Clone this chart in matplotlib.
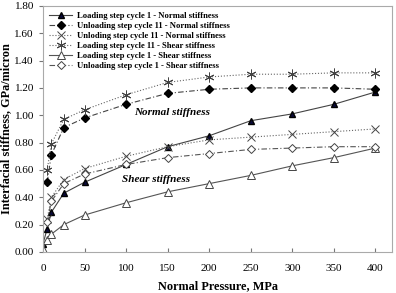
import matplotlib.pyplot as plt

plt.rcParams['font.family'] = ['Liberation Serif', 'DejaVu Serif']

# pressure values, MPa
p_all = [0, 5, 10, 25, 50, 100, 150, 200, 250, 300, 350, 400]
p_unl = [5, 10, 25, 50, 100, 150, 200, 250, 300, 350, 400]

# stiffness, GPa/micron
load1_normal = [0.06, 0.17, 0.29, 0.43, 0.51, 0.64, 0.77, 0.85, 0.96, 1.01, 1.08, 1.17]
unload11_normal = [0.51, 0.71, 0.91, 0.98, 1.08, 1.16, 1.19, 1.20, 1.20, 1.20, 1.19]
unlod11_normal = [0.24, 0.40, 0.53, 0.61, 0.70, 0.77, 0.82, 0.84, 0.86, 0.88, 0.90]
load11_shear = [0.60, 0.79, 0.97, 1.04, 1.15, 1.24, 1.28, 1.30, 1.30, 1.31, 1.31]
load1_shear = [0.02, 0.09, 0.13, 0.20, 0.27, 0.36, 0.44, 0.50, 0.56, 0.63, 0.69, 0.76]
unload1_shear = [0.22, 0.37, 0.50, 0.57, 0.64, 0.69, 0.72, 0.75, 0.76, 0.77, 0.77]

labels = ["Loading step cycle 1 - Normal stiffness",
          "Unloading step cycle 11 - Normal stiffness",
          "Unloding step cycle 11 - Normal stiffness",
          "Loading step cycle 11 - Shear stiffness",
          "Loading step cycle 1 - Shear stiffness",
          "Unloading step cycle 1 - Shear stiffness"]

fig = plt.figure(figsize=(3.96, 2.93), dpi=100)
ax = fig.add_axes([0.1086, 0.140, 0.8814, 0.840])

ax.plot(p_all, load1_normal, color='#444444', lw=0.8, ls='-', marker='^', ms=5,
        mfc='#0a0a3a', mec='black', label=labels[0])
ax.plot(p_unl, unload11_normal, color='#444444', lw=0.8, ls=(0, (5, 2, 1, 2)), marker='D', ms=4,
        mfc='black', mec='black', label=labels[1])
ax.plot(p_unl, unlod11_normal, color='#666666', lw=0.8, ls=':', marker='x', ms=6,
        mec='#444444', mew=0.7, label=labels[2])
ax.plot(p_unl, load11_shear, color='#666666', lw=0.8, ls=':', marker=(6, 2, 0), ms=7,
        mec='#444444', mew=0.7, label=labels[3])
ax.plot(p_all, load1_shear, color='#555555', lw=0.8, ls='-', marker='^', ms=6,
        mfc='white', mec='#444444', mew=0.7, label=labels[4])
ax.plot(p_unl, unload1_shear, color='#555555', lw=0.8, ls=(0, (5, 2, 1, 2)), marker='D', ms=4.5,
        mfc='white', mec='#444444', mew=0.7, label=labels[5])

ax.text(110, 1.0, "Normal stiffness", fontsize=8, fontweight='bold', style='italic')
ax.text(95, 0.515, "Shear stiffness", fontsize=8, fontweight='bold', style='italic')

ax.set_xlim(0, 420)
ax.set_ylim(0, 1.8)
ax.set_xticks(range(0, 401, 50))
ax.set_yticks([i * 0.2 for i in range(10)])
ax.set_yticklabels(["%.2f" % (i * 0.2) for i in range(10)])
ax.tick_params(axis='x', direction='in', length=3, labelsize=8, pad=9, color='#777777')
ax.tick_params(axis='y', direction='out', length=3, labelsize=8, color='#777777')
for s in ax.spines.values():
    s.set_color('#aaaaaa')
    s.set_linewidth(0.8)

ax.set_xlabel("Normal Pressure, MPa", fontsize=8.8, fontweight='bold', labelpad=5)
ax.set_ylabel("Interfacial stiffness, GPa/micron", fontsize=8.8, fontweight='bold', labelpad=2)

leg = ax.legend(loc='upper left', frameon=False, fontsize=6.2, handlelength=2.7,
                labelspacing=0.22, borderaxespad=0.3, handletextpad=0.5)
for t in leg.get_texts():
    t.set_fontweight('bold')

fig.savefig("out.png", dpi=100)
